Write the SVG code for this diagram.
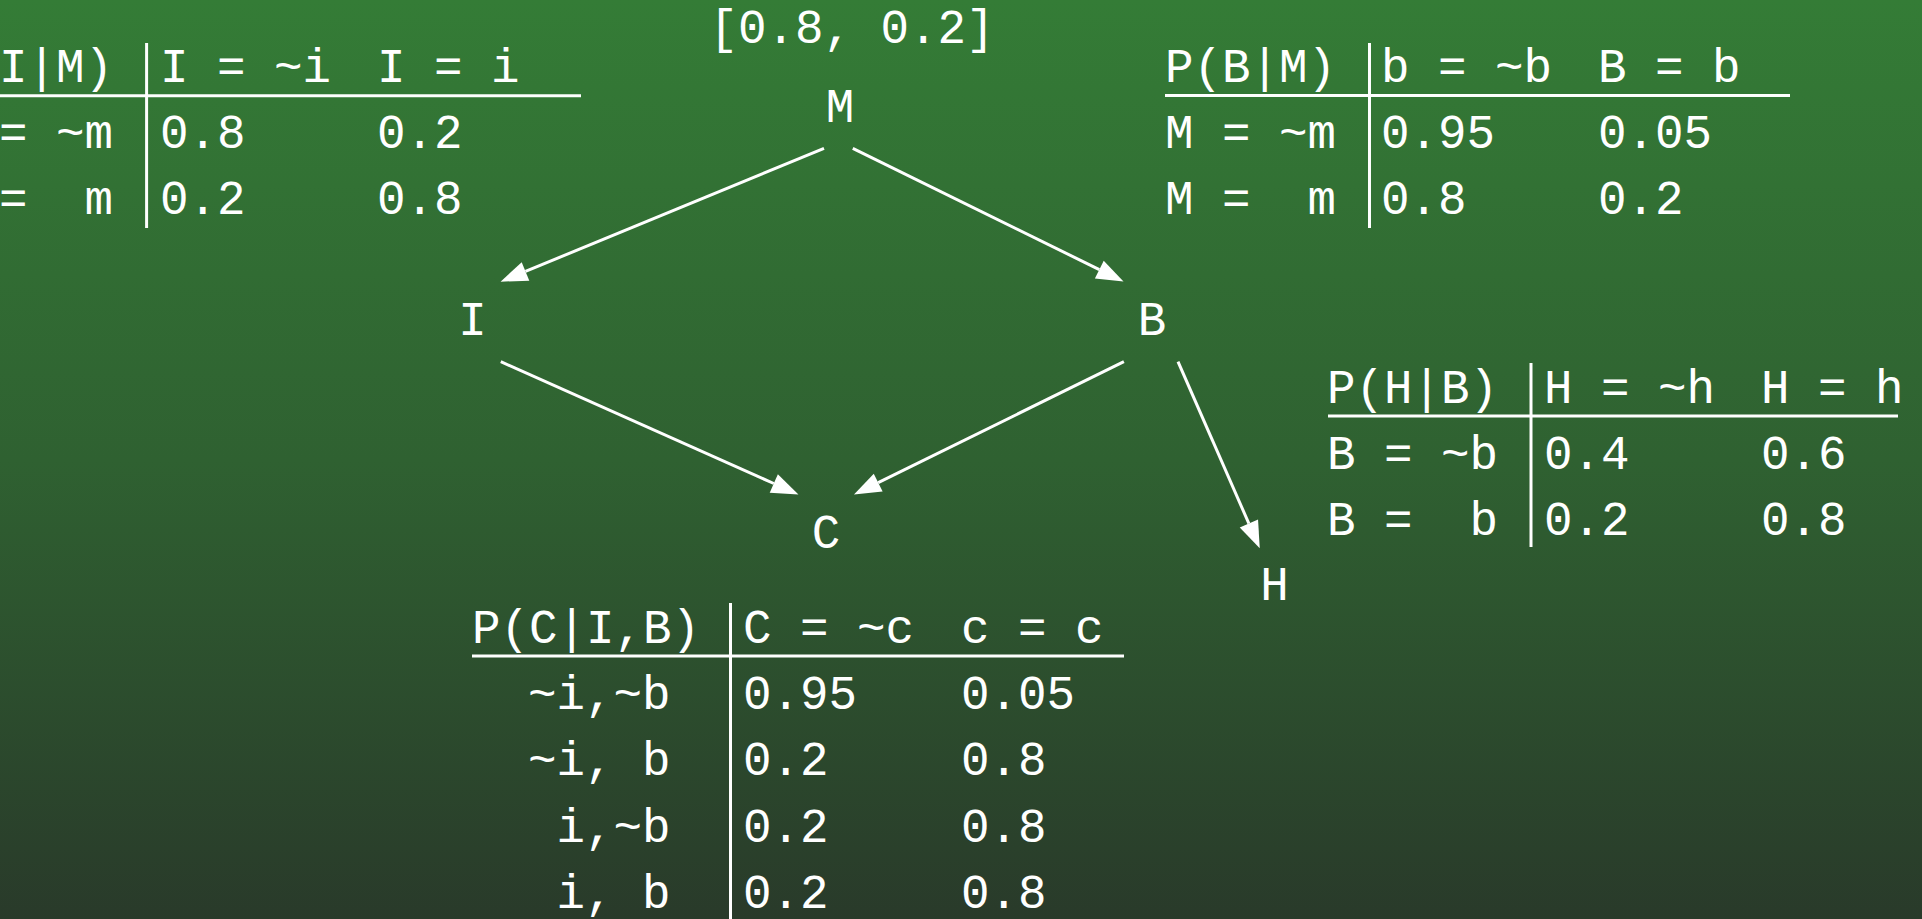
<svg xmlns="http://www.w3.org/2000/svg" width="1922" height="919" viewBox="0 0 1922 919" xml:space="preserve">
<defs>
<linearGradient id="bg" x1="0" y1="0" x2="0" y2="1">
<stop offset="0" stop-color="#347c36"/>
<stop offset="0.5" stop-color="#2f6131"/>
<stop offset="1" stop-color="#293a2a"/>
</linearGradient>
<marker id="ah" markerUnits="userSpaceOnUse" markerWidth="27" markerHeight="20" refX="0" refY="10" orient="auto" overflow="visible">
<path d="M0,0 L27,10 L0,20 Z" fill="#ffffff"/>
</marker>
</defs>
<style>
text{font-family:"Liberation Mono","Courier New",monospace;font-size:47.5px;fill:#ffffff;white-space:pre}
.node{text-anchor:middle}
.rule{stroke:#ffffff;stroke-width:3;fill:none}
.edge{stroke:#ffffff;stroke-width:3;fill:none;marker-end:url(#ah)}
</style>
<rect x="0" y="0" width="1922" height="919" fill="url(#bg)"/>

<g id="table-I-M">
<line class="rule" x1="0" y1="95.7" x2="581" y2="95.7"/>
<line class="rule" x1="146.6" y1="43" x2="146.6" y2="228"/>
<text x="-58" y="82">P(I|M)</text>
<text x="160" y="82">I = ~i</text>
<text x="377" y="82">I = i</text>
<text x="-58" y="148">M = ~m</text>
<text x="160" y="148">0.8</text>
<text x="377" y="148">0.2</text>
<text x="-58" y="214">M =  m</text>
<text x="160" y="214">0.2</text>
<text x="377" y="214">0.8</text>
</g>

<g id="table-B-M">
<line class="rule" x1="1165" y1="95.5" x2="1790" y2="95.5"/>
<line class="rule" x1="1369.5" y1="43" x2="1369.5" y2="228"/>
<text x="1165" y="82">P(B|M)</text>
<text x="1381" y="82">b = ~b</text>
<text x="1598" y="82">B = b</text>
<text x="1165" y="148">M = ~m</text>
<text x="1381" y="148">0.95</text>
<text x="1598" y="148">0.05</text>
<text x="1165" y="214">M =  m</text>
<text x="1381" y="214">0.8</text>
<text x="1598" y="214">0.2</text>
</g>

<g id="table-H-B">
<line class="rule" x1="1328" y1="416" x2="1898" y2="416"/>
<line class="rule" x1="1531" y1="363" x2="1531" y2="547"/>
<text x="1327" y="403">P(H|B)</text>
<text x="1544" y="403">H = ~h</text>
<text x="1761" y="403">H = h</text>
<text x="1327" y="469">B = ~b</text>
<text x="1544" y="469">0.4</text>
<text x="1761" y="469">0.6</text>
<text x="1327" y="535">B =  b</text>
<text x="1544" y="535">0.2</text>
<text x="1761" y="535">0.8</text>
</g>

<g id="table-C-IB">
<line class="rule" x1="472" y1="656" x2="1124" y2="656"/>
<line class="rule" x1="730.5" y1="603" x2="730.5" y2="919"/>
<text x="472" y="643">P(C|I,B)</text>
<text x="743" y="643">C = ~c</text>
<text x="961" y="643">c = c</text>
<text x="528" y="709">~i,~b</text>
<text x="743" y="709">0.95</text>
<text x="961" y="709">0.05</text>
<text x="528" y="775">~i, b</text>
<text x="743" y="775">0.2</text>
<text x="961" y="775">0.8</text>
<text x="528" y="842"> i,~b</text>
<text x="743" y="842">0.2</text>
<text x="961" y="842">0.8</text>
<text x="528" y="908"> i, b</text>
<text x="743" y="908">0.2</text>
<text x="961" y="908">0.8</text>
</g>

<g id="node-M">
<text class="node" x="852" y="43">[0.8, 0.2]</text>
<text class="node" x="840" y="122">M</text>
</g>
<g id="node-I"><text class="node" x="472.5" y="335">I</text></g>
<g id="node-B"><text class="node" x="1152" y="335">B</text></g>
<g id="node-C"><text class="node" x="826" y="548">C</text></g>
<g id="node-H"><text class="node" x="1274.5" y="600">H</text></g>

<g id="connectors">
<line class="edge" x1="824" y1="148.3" x2="525.5" y2="271.4"/>
<line class="edge" x1="852.8" y1="148.3" x2="1099.3" y2="269.6"/>
<line class="edge" x1="500.8" y1="361.7" x2="773.8" y2="483.5"/>
<line class="edge" x1="1123.9" y1="361.7" x2="878.2" y2="482.6"/>
<line class="edge" x1="1178" y1="361.7" x2="1248.9" y2="523.6"/>
</g>
</svg>
